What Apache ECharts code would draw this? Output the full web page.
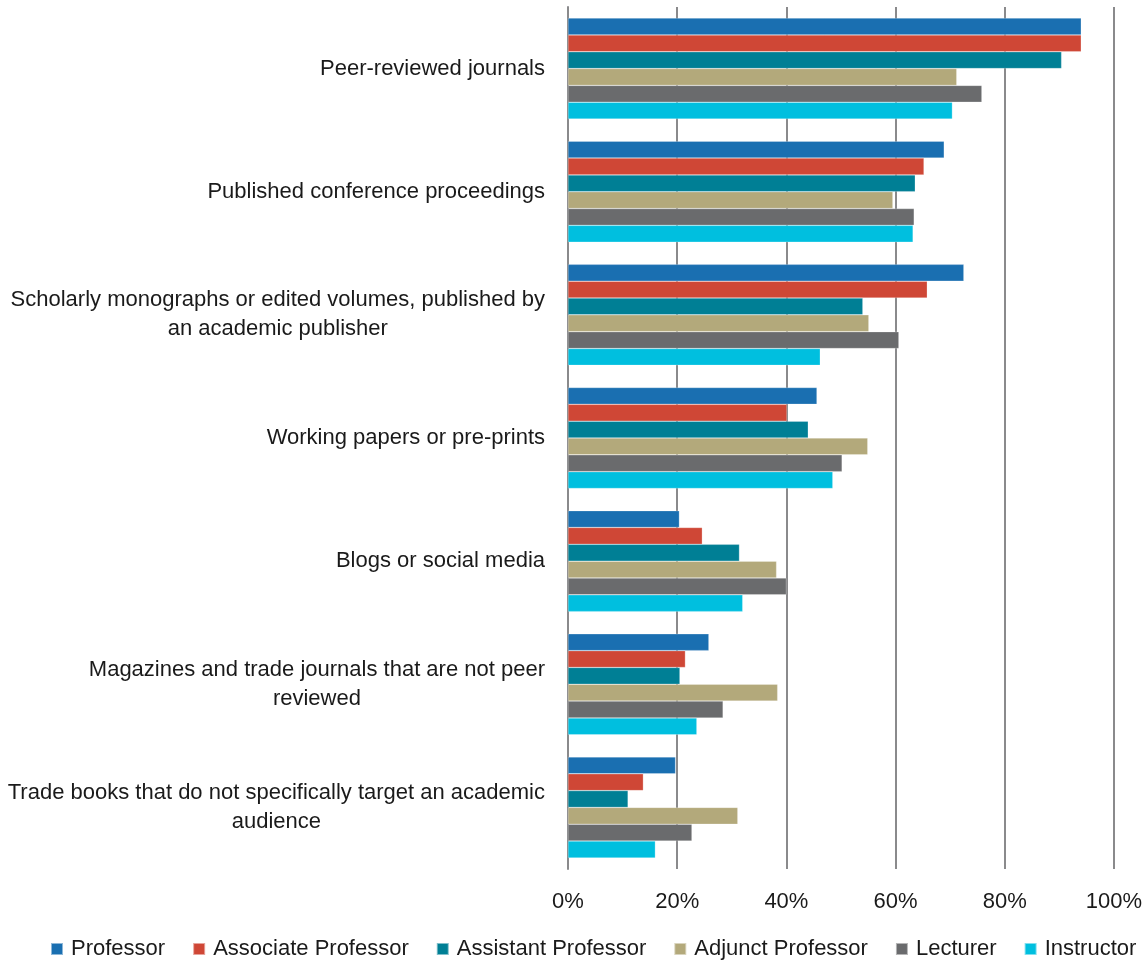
<!DOCTYPE html>
<html>
<head>
<meta charset="utf-8">
<script src="https://cdn.jsdelivr.net/npm/echarts@6/dist/echarts.min.js"></script>
<style>
html,body{margin:0;padding:0;background:#fff;}
#chart{width:1148px;height:962px;}
</style>
</head>
<body>
<div id="chart"></div>
<script>
const categories = [
  "Peer-reviewed journals",
  "Published conference proceedings",
  "Scholarly monographs or edited volumes, published by\nan academic publisher",
  "Working papers or pre-prints",
  "Blogs or social media",
  "Magazines and trade journals that are not peer\nreviewed",
  "Trade books that do not specifically target an academic\naudience"
];
const seriesNames = ["Professor", "Associate Professor", "Assistant Professor", "Adjunct Professor", "Lecturer", "Instructor"];
const professor = [94.0, 68.9, 72.5, 45.6, 20.4, 25.8, 19.7];
const associateProfessor = [94.0, 65.2, 65.8, 40.1, 24.6, 21.5, 13.8];
const assistantProfessor = [90.4, 63.6, 54.0, 44.0, 31.4, 20.5, 11.0];
const adjunctProfessor = [71.2, 59.5, 55.1, 54.9, 38.2, 38.4, 31.1];
const lecturer = [75.8, 63.4, 60.6, 50.2, 40.0, 28.4, 22.7];
const instructor = [70.4, 63.2, 46.2, 48.5, 32.0, 23.6, 16.0];
const seriesValues = [professor, associateProfessor, assistantProfessor, adjunctProfessor, lecturer, instructor];
const colors = ["#1a6fb1", "#cf4736", "#007f95", "#b3a97b", "#6a6b6d", "#00bfdf"];
const xTicks = {min: 0, max: 100, interval: 20};

const FONT = '"Liberation Sans", Arial, sans-serif';
const chart = echarts.init(document.getElementById('chart'), null, {renderer: 'canvas'});
chart.setOption({
  animation: false,
  color: colors,
  textStyle: {fontFamily: FONT},
  grid: {left: 568, right: 34, top: 7, bottom: 93, containLabel: false},
  legend: {
    bottom: 2, left: 50, width: 1098, padding: 0,
    itemWidth: 12, itemHeight: 12, itemGap: 27,
    icon: 'rect',
    textStyle: {fontFamily: FONT, fontSize: 22, color: '#1a1a1a', padding: [0,0,0,3]},
    data: seriesNames
  },
  xAxis: {
    type: 'value', min: xTicks.min, max: xTicks.max, interval: xTicks.interval,
    axisLine: {show: false}, axisTick: {show: false},
    splitLine: {show: true, lineStyle: {color: '#8a8a8c', width: 2}},
    axisLabel: {formatter: '{value}%', fontFamily: FONT, fontSize: 22, color: '#1a1a1a', margin: 22}
  },
  yAxis: {
    type: 'category', data: categories, inverse: true,
    axisLine: {show: true, lineStyle: {color: '#8a8a8c', width: 2}},
    axisTick: {show: false},
    axisLabel: {
      fontFamily: FONT, fontSize: 22, color: '#1a1a1a', margin: 23, align: 'right', lineHeight: 29,
      formatter: function (v) { return v.split('\n').map(s => '{c|' + s + '}').join('\n'); },
      rich: {c: {align: 'center', fontFamily: FONT, fontSize: 22, color: '#1a1a1a', lineHeight: 29}}
    }
  },
  series: seriesNames.map((n, i) => ({
    name: n, type: 'bar', data: seriesValues[i],
    barGap: '0%', barCategoryGap: '18%',
    itemStyle: {borderColor: 'rgba(255,255,255,0.5)', borderWidth: 0.5}
  }))
});
</script>
</body>
</html>
